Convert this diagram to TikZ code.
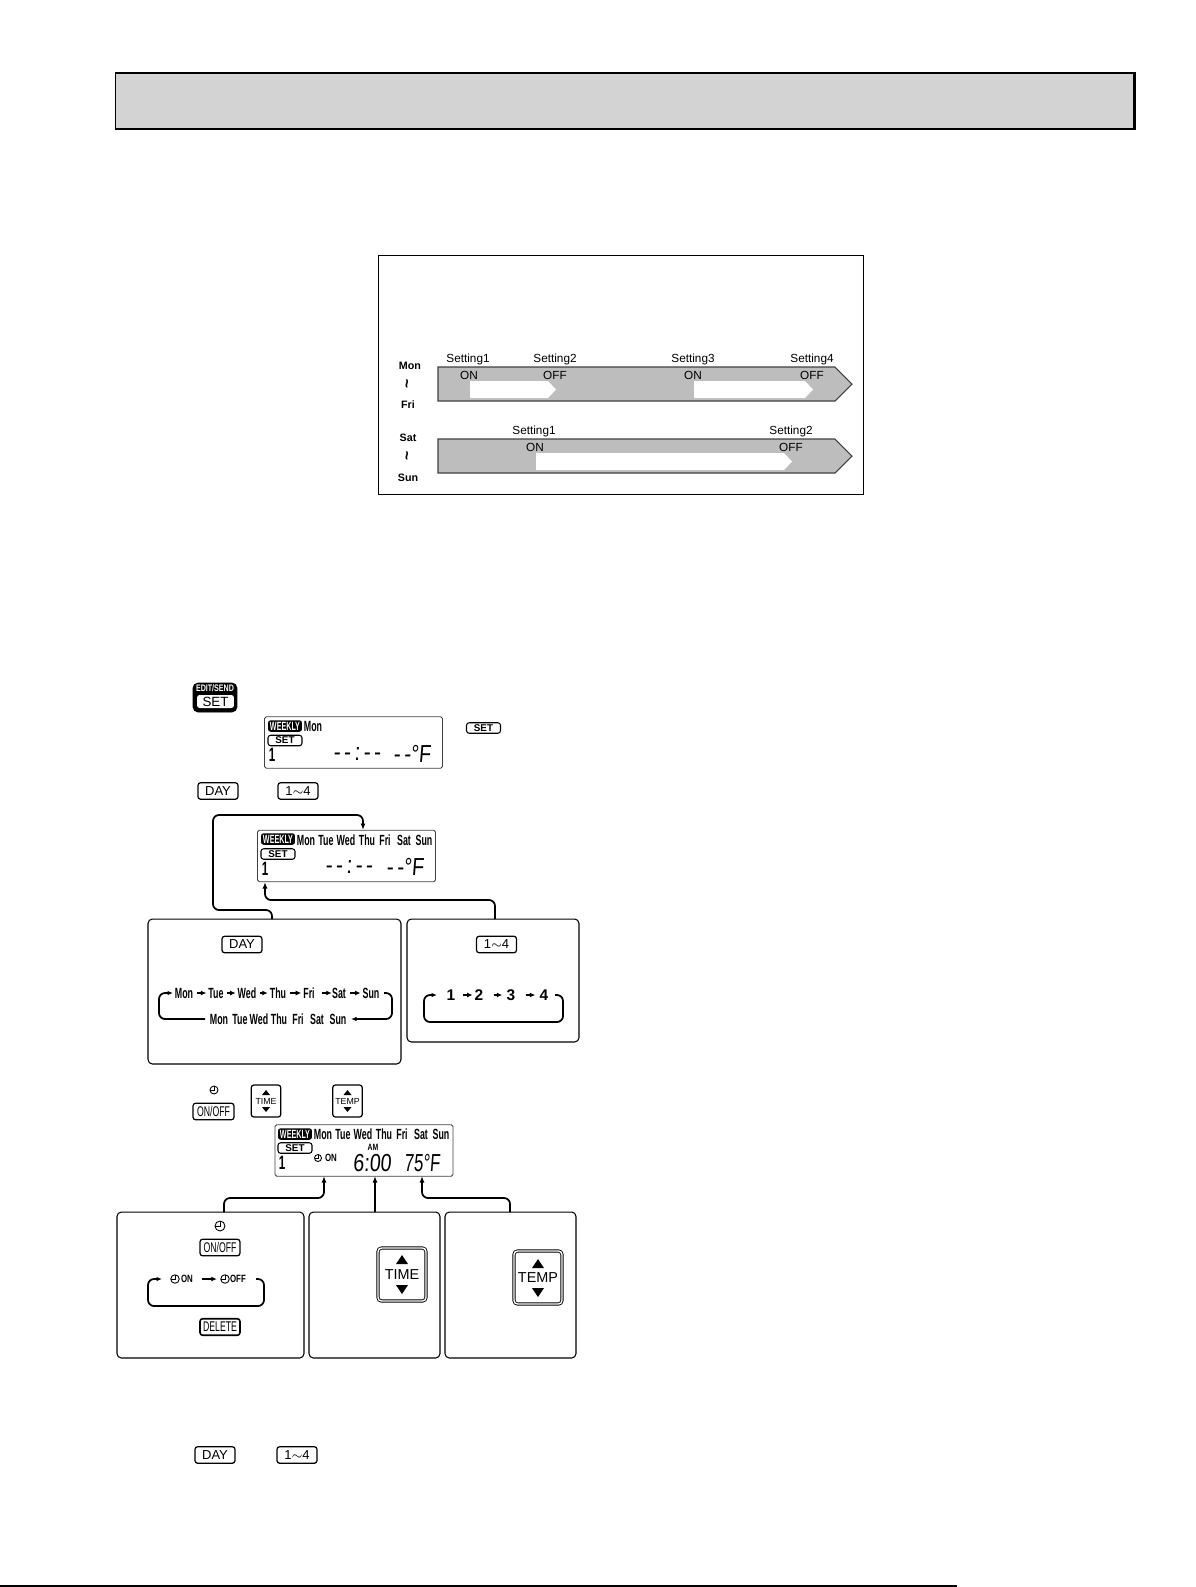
\documentclass[tikz,border=0pt]{standalone}
\usepackage{fontspec}
\setmainfont{Liberation Sans}
\newfontfamily\lcdfont[FakeStretch=0.6]{Liberation Sans Bold}
\newfontfamily\smallbold[FakeStretch=0.75]{Liberation Sans Bold}
\newfontfamily\keyfont[FakeStretch=0.62]{Liberation Sans}
\newfontfamily\segfont[FakeStretch=0.8,FakeSlant=0.08]{Liberation Sans}
\newfontfamily\segnarrow[FakeStretch=0.68,FakeSlant=0.08]{Liberation Sans}
\newfontfamily\segdash[FakeStretch=0.85,FakeSlant=0.08,LetterSpace=14]{Liberation Sans}
\usetikzlibrary{arrows.meta}
\definecolor{bargray}{HTML}{BDBDBD}
\definecolor{headgray}{HTML}{D3D3D3}
\begin{document}
\begin{tikzpicture}[
    x=0.02cm, y=-0.02cm,
    >={Latex[length=1.3mm,width=1mm]},
    head/.style={draw, line width=0.6pt, fill=headgray, minimum width=20.38cm, minimum height=1.12cm},
    frame/.style={draw, line width=0.5pt, minimum width=9.7cm, minimum height=4.78cm},
    bar/.style={draw=black!75, line width=0.6pt, fill=bargray},
    lbl/.style={font=\fontsize{6.7}{8}\selectfont, inner sep=0pt},
    daylbl/.style={font=\fontsize{6.1}{7}\selectfont\bfseries, inner sep=0pt},
    wave/.style={rotate=90, inner sep=0pt, font=\fontsize{9}{9}\selectfont\bfseries},
    lcd/.style={draw=black!75, line width=0.5pt, rounded corners=1pt, minimum width=3.56cm, minimum height=1.03cm},
    week/.style={fill=black, text=white, rounded corners=1.5pt, minimum width=0.68cm, minimum height=0.23cm, inner sep=0pt, font=\lcdfont\fontsize{6.8}{8}\selectfont},
    setpill/.style={draw, line width=0.6pt, rounded corners=1.5pt, minimum width=0.68cm, minimum height=0.21cm, inner sep=0pt, font=\fontsize{5.6}{6}\selectfont\bfseries},
    dayname/.style={inner sep=0pt, font=\lcdfont\fontsize{8.4}{9}\selectfont},
    seg/.style={inner sep=0pt, font=\segfont\fontsize{14}{15}\selectfont},
    dashes/.style={inner sep=0pt, font=\segdash\fontsize{14}{15}\selectfont},
    btn/.style={draw, line width=0.7pt, rounded corners=1.5pt, minimum width=0.8cm, minimum height=0.33cm, inner sep=0pt, font=\fontsize{7.4}{8}\selectfont},
    keybtn/.style={btn, font=\keyfont\fontsize{8}{9}\selectfont},
    updown/.style={draw, line width=0.7pt, rounded corners=1.5pt, minimum width=0.59cm, minimum height=0.64cm, inner sep=0pt, font=\fontsize{5}{6}\selectfont},
    bigupdown/.style={draw, double, double distance=0.8pt, line width=0.5pt, rounded corners=2pt, minimum width=0.96cm, minimum height=1.06cm, inner sep=0pt, font=\fontsize{8.2}{9}\selectfont},
    box/.style={draw, line width=0.6pt, rounded corners=2.5pt},
    clockicon/.style={circle, draw, line width=0.5pt, minimum size=#1, inner sep=0pt,
        path picture={\draw[line width=0.4pt] (path picture bounding box.north) -- (path picture bounding box.center) -- (path picture bounding box.west);}},
    flow/.style={->, line width=1pt, rounded corners=1.2mm},
    loopflow/.style={flow, >={Latex[length=1.1mm,width=0.9mm]}},
    tiny/.style={->, line width=0.7pt, >={Latex[length=1.1mm,width=1mm]}},
    tag/.style={inner sep=0pt, font=\smallbold\fontsize{6}{7}\selectfont},
    sym/.style={inner sep=0pt, font=\fontsize{8.8}{9}\selectfont\bfseries},
    digit/.style={inner sep=0pt, font=\lcdfont\fontsize{11}{12}\selectfont}
]
\useasboundingbox (0,0) rectangle (1196,1587);

% header
\node[head] (header) at (624.5,101) {};
\draw[line width=1.5pt] (header.north east) -- (header.south east);
\coordinate (footl) at (0,1586);
\coordinate (footr) at (957,1586);
\draw[line width=1pt] (footl) -- (footr);

% timer chart
\node[frame] (chart) at (620.5,374.5) {};
\draw[bar] (438,367) -- (835,367) -- (852,384) -- (835,401) -- (438,401) -- cycle;
\draw[bar] (438,439) -- (835,439) -- (852,456) -- (835,473) -- (438,473) -- cycle;
\fill[white] (470,381) -- (548,381) -- (556,389.5) -- (548,398) -- (470,398) -- cycle;
\fill[white] (694,381) -- (805,381) -- (813,389.5) -- (805,398) -- (694,398) -- cycle;
\fill[white] (536,453) -- (784,453) -- (792,461.5) -- (784,470) -- (536,470) -- cycle;

\node[lbl] (s1) at (468,359) {Setting1};
\node[lbl] (s2) at (555,359) {Setting2};
\node[lbl] (s3) at (693,359) {Setting3};
\node[lbl] (s4) at (812,359) {Setting4};
\node[lbl] (on1) at (469,375) {ON};
\node[lbl] (off1) at (555,375) {OFF};
\node[lbl] (on2) at (693,375) {ON};
\node[lbl] (off2) at (812,375) {OFF};
\node[lbl] (s5) at (534,431) {Setting1};
\node[lbl] (s6) at (791,431) {Setting2};
\node[lbl] (on3) at (535,447) {ON};
\node[lbl] (off3) at (791,447) {OFF};

\node[daylbl] (mon) at (410,366) {Mon};
\node[wave] (til1) at (409,384) {\textasciitilde};
\node[daylbl] (fri) at (408,405) {Fri};
\node[daylbl] (sat) at (408,438) {Sat};
\node[wave] (til2) at (409,456) {\textasciitilde};
\node[daylbl] (sun) at (408,478) {Sun};

% step 1
\node[draw, fill=black, line width=0.5pt, rounded corners=3pt, minimum width=0.88cm, minimum height=0.58cm] (setbig) at (215,697.5) {};
\node[fill=white, rounded corners=1.5pt, minimum width=0.74cm, minimum height=0.26cm, inner sep=0pt, font=\fontsize{7.6}{8}\selectfont] (setkey) at (215.5,701.5) {SET};
\node[text=white, inner sep=0pt, font=\smallbold\fontsize{5.4}{6}\selectfont] (editsend) at (215,688.5) {EDIT/SEND};

\node[lcd] (lcda) at (353.5,742.5) {};
\node[week] (weeka) at (285,726) {WEEKLY};
\node[dayname] (amon) at (313,726) {Mon};
\node[setpill] (seta) at (285,740.5) {SET};
\node[digit] (onea) at (272,755) {1};
\node[dashes] (timea) at (357,754) {-{}-:-{}-};
\node[dashes] (tempa) at (412,754) {-{}-\segfont°F};
\node[setpill] (setsmall) at (483.5,728) {SET};

% step 2
\node[btn] (dayb) at (218,791) {DAY};
\node[btn] (numb) at (298,791) {1$\sim$4};

\node[lcd] (lcdb) at (346.5,856) {};
\node[week] (weekb) at (278,839) {WEEKLY};
\node[dayname] (bmon) at (306,840) {Mon};
\node[dayname] (btue) at (326,840) {Tue};
\node[dayname] (bwed) at (346,840) {Wed};
\node[dayname] (bthu) at (367,840) {Thu};
\node[dayname] (bfri) at (385,840) {Fri};
\node[dayname] (bsat) at (404,840) {Sat};
\node[dayname] (bsun) at (424,840) {Sun};
\node[setpill] (setb) at (278,854) {SET};
\node[digit] (oneb) at (265,869) {1};
\node[dashes] (timeb) at (349,867) {-{}-:-{}-};
\node[dashes] (tempb) at (405,867) {-{}-\segfont°F};

\node[box, minimum width=5.06cm, minimum height=2.9cm] (daybox) at (274.5,991.5) {};
\node[box, minimum width=3.44cm, minimum height=2.46cm] (numbox) at (493,980.5) {};
\node[btn] (daykey) at (242,944.5) {DAY};
\node[btn] (numkey) at (496.5,944.5) {1$\sim$4};

\coordinate (dayout) at (272,919);
\coordinate (dayin) at (363,830);
\coordinate (numout) at (495,919);
\coordinate (numin) at (265,882);
\draw[flow] (dayout) -- (272,910) -- (213,910) -- (213,815) -- (363,815) -- (dayin);
\draw[flow] (numout) -- (495,900) -- (265,900) -- (numin);

\node[dayname] (r1mon) at (184,993) {Mon};
\node[dayname] (r1tue) at (216,993) {Tue};
\node[dayname] (r1wed) at (247,993) {Wed};
\node[dayname] (r1thu) at (278,993) {Thu};
\node[dayname] (r1fri) at (309,993) {Fri};
\node[dayname] (r1sat) at (339,993) {Sat};
\node[dayname] (r1sun) at (371,993) {Sun};
\draw[tiny] ([xshift=2pt]r1mon.east) -- ([xshift=-1pt]r1tue.west);
\draw[tiny] ([xshift=2pt]r1tue.east) -- ([xshift=-1pt]r1wed.west);
\draw[tiny] ([xshift=2pt]r1wed.east) -- ([xshift=-1pt]r1thu.west);
\draw[tiny] ([xshift=2pt]r1thu.east) -- ([xshift=-1pt]r1fri.west);
\draw[tiny] ([xshift=4pt]r1fri.east) -- ([xshift=0pt]r1sat.west);
\draw[tiny] ([xshift=2pt]r1sat.east) -- ([xshift=-1pt]r1sun.west);
\node[dayname] (r2mon) at (219,1019) {Mon};
\node[dayname] (r2tue) at (240,1019) {Tue};
\node[dayname] (r2wed) at (259,1019) {Wed};
\node[dayname] (r2thu) at (279,1019) {Thu};
\node[dayname] (r2fri) at (298,1019) {Fri};
\node[dayname] (r2sat) at (317,1019) {Sat};
\node[dayname] (r2sun) at (338,1019) {Sun};
\coordinate (loopa) at (384,993);
\coordinate (loopb) at (351,1019);
\coordinate (loopc) at (205,1019);
\coordinate (loopd) at (173,993);
\draw[loopflow] (loopa) -- (392,993) -- (392,1019) -- (loopb);
\draw[loopflow] (loopc) -- (159,1019) -- (159,993) -- (loopd);

\node[sym] (n1) at (451,995) {1};
\node[sym] (n2) at (479,995) {2};
\node[sym] (n3) at (511,995) {3};
\node[sym] (n4) at (544,995) {4};
\coordinate (nloopa) at (555,995);
\coordinate (nloopb) at (437,995);
\draw[tiny] ([xshift=4pt]n1.east) -- ([xshift=-1pt]n2.west);
\draw[tiny] ([xshift=5.7pt]n2.east) -- ([xshift=-2.3pt]n3.west);
\draw[tiny] ([xshift=5.7pt]n3.east) -- ([xshift=-2.3pt]n4.west);
\draw[loopflow] (nloopa) -- (563,995) -- (563,1022) -- (424,1022) -- (424,995) -- (nloopb);

% step 3
\node[clockicon=0.16cm] (clka) at (214,1090) {};
\node[keybtn, minimum width=0.82cm] (onoffa) at (213.5,1111.5) {ON/OFF};
\node[updown] (timea2) at (266,1101) {TIME};
\node[updown] (tempa2) at (347.5,1101) {TEMP};
\fill (266,1090) -- (270,1095) -- (262,1095) -- cycle;
\fill (266,1112) -- (270,1107) -- (262,1107) -- cycle;
\fill (347.5,1090) -- (351.5,1095) -- (343.5,1095) -- cycle;
\fill (347.5,1112) -- (351.5,1107) -- (343.5,1107) -- cycle;

\node[lcd] (lcdc) at (364,1150.5) {};
\node[week] (weekc) at (295,1134) {WEEKLY};
\node[dayname] (cmon) at (323,1134) {Mon};
\node[dayname] (ctue) at (343,1134) {Tue};
\node[dayname] (cwed) at (363,1134) {Wed};
\node[dayname] (cthu) at (384,1134) {Thu};
\node[dayname] (cfri) at (402,1134) {Fri};
\node[dayname] (csat) at (421,1134) {Sat};
\node[dayname] (csun) at (441,1134) {Sun};
\node[setpill] (setc) at (295,1148) {SET};
\node[digit] (onec) at (282,1163) {1};
\node[clockicon=0.14cm] (clkc) at (318,1158) {};
\node[tag] (onc) at (331,1158) {ON};
\node[tag, font=\smallbold\fontsize{5.2}{6}\selectfont] (amc) at (373,1147) {AM};
\node[seg] (timec) at (372,1163) {6:00};
\node[seg, font=\segnarrow\fontsize{14}{15}\selectfont] (tempc) at (422,1163) {75°F};

\node[box, minimum width=3.74cm, minimum height=2.92cm] (onbox) at (210.5,1285) {};
\node[box, minimum width=2.62cm, minimum height=2.92cm] (timebox) at (374.5,1285) {};
\node[box, minimum width=2.62cm, minimum height=2.92cm] (tempbox) at (510.5,1285) {};

\coordinate (onout) at (224,1212);
\coordinate (onin) at (324,1176);
\coordinate (timeout) at (375,1212);
\coordinate (timein) at (375,1176);
\coordinate (tempout) at (510,1212);
\coordinate (tempin) at (422,1176);
\draw[flow] (onout) -- (224,1198) -- (324,1198) -- (onin);
\draw[flow] (timeout) -- (timein);
\draw[flow] (tempout) -- (510,1198) -- (422,1198) -- (tempin);

\node[clockicon=0.2cm] (clkd) at (220,1226) {};
\node[keybtn, minimum width=0.8cm] (onoffb) at (220,1247.5) {ON/OFF};
\node[clockicon=0.17cm] (clke) at (175,1279) {};
\node[tag] (onlab) at (187,1279) {ON};
\node[clockicon=0.17cm] (clkf) at (225,1279) {};
\node[tag] (offlab) at (238,1279) {OFF};
\draw[tiny] ([xshift=5pt]onlab.east) -- ([xshift=-2pt]clkf.west);
\coordinate (oloopa) at (256,1279);
\coordinate (oloopb) at (162,1279);
\draw[loopflow] (oloopa) -- (264,1279) -- (264,1306) -- (148,1306) -- (148,1279) -- (oloopb);
\node[keybtn, line width=0.9pt] (delkey) at (220,1327) {DELETE};

\node[bigupdown] (timekey) at (402,1274.5) {TIME};
\fill (402,1255) -- (408,1264) -- (396,1264) -- cycle;
\fill (402,1294) -- (408,1285) -- (396,1285) -- cycle;
\node[bigupdown] (tempkey) at (538,1277.5) {TEMP};
\fill (538,1259) -- (544,1268) -- (532,1268) -- cycle;
\fill (538,1297) -- (544,1288) -- (532,1288) -- cycle;

% step 4
\node[btn] (dayc) at (215,1455) {DAY};
\node[btn] (numc) at (297,1455) {1$\sim$4};

\end{tikzpicture}
\end{document}
